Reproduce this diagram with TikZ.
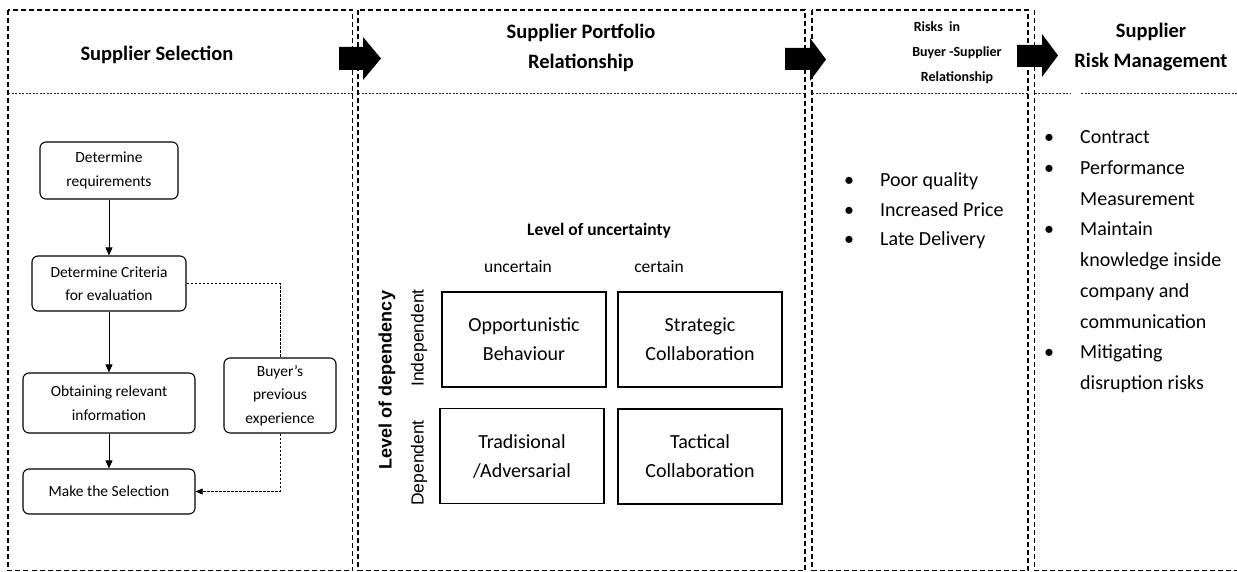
\documentclass[tikz,border=0pt]{standalone}
\usepackage{fontspec}
\setmainfont{Carlito}
\newfontfamily\arialfont{Liberation Sans}
\usetikzlibrary{arrows.meta}
\begin{document}
\begin{tikzpicture}[x=1pt,y=-1pt,
  panel/.style={draw, line width=1.1pt, dash pattern=on 5pt off 3pt},
  sep/.style={draw=black!85, line width=0.7pt, dash pattern=on 2pt off 1.5pt},
  flow/.style={draw, rounded corners=6pt, line width=1.1pt, align=center, inner sep=0pt, font=\fontsize{15.5}{23.5}\selectfont},
  quad/.style={draw, line width=1.2pt, minimum width=164pt, minimum height=95pt, align=center, inner sep=0pt, font=\fontsize{20}{29}\selectfont},
  head/.style={align=center, inner sep=0pt, font=\bfseries\fontsize{20.5}{30}\selectfont},
  farrow/.style={-{Triangle[length=8pt,width=7pt]}, line width=0.8pt},
  dline/.style={line width=0.6pt, dash pattern=on 2.5pt off 1.5pt},
  darrow/.style={dline, -{Triangle[length=7pt,width=6pt]}},
  lst/.style={anchor=west, inner sep=0pt, font=\fontsize{20}{30.75}\selectfont}
]
\useasboundingbox (0,0) rectangle (1237,572);

% panels
\draw[panel] (8,10) rectangle (352.5,570.5);
\draw[panel] (358,10) rectangle (805,570.5);
\draw[panel] (812,10) rectangle (1028,570.5);
\draw[panel] (1034.5,10) -- (1034.5,570.5) -- (1237,570.5);

% header separators
\draw[sep] (8,93) -- (352.5,93);
\draw[sep] (358,93) -- (805,93);
\draw[sep] (812,93) -- (1028,93);
\draw[sep] (1034.5,93) -- (1071,93);
\draw[sep] (1081,93) -- (1237,93);

% block arrows
\fill (339,47) -- (363,47) -- (363,37) -- (381,58.5) -- (363,80) -- (363,70) -- (339,70) -- cycle;
\fill (785,48) -- (810,48) -- (810,38) -- (826,59.5) -- (810,81) -- (810,70) -- (785,70) -- cycle;
\fill (1017,45) -- (1042,45) -- (1042,34) -- (1058,55.5) -- (1042,77) -- (1042,67) -- (1017,67) -- cycle;

% headers
\node[head] (h1) at (157,55) {Supplier Selection};
\node[head] (h2) at (581,48) {Supplier Portfolio\\Relationship};
\node[head, font=\bfseries\fontsize{14}{25}\selectfont] (h3) at (957,53) {Risks\ \ in\hspace*{40pt}\\Buyer -Supplier\\Relationship};
\node[head] (h4) at (1151,47) {Supplier\\Risk Management};

% flowchart
\node[flow, minimum width=138pt, minimum height=57pt] (req) at (109,170.5) {Determine\\requirements};
\node[flow, minimum width=154pt, minimum height=55pt] (crit) at (109,283.5) {Determine Criteria\\for evaluation};
\node[flow, minimum width=172pt, minimum height=60pt] (info) at (109,403) {Obtaining relevant\\information};
\node[flow, minimum width=172pt, minimum height=45pt] (sel) at (109,491.5) {Make the Selection};
\node[flow, minimum width=112pt, minimum height=75pt] (buyer) at (280,395.5) {Buyer’s\\previous\\experience};

\draw[farrow] (req) -- (crit);
\draw[farrow] (crit) -- (info);
\draw[farrow] (info) -- (sel);
\draw[dline] (crit.east) -| (buyer.north);
\draw[darrow] (buyer.south) |- (sel.east);

% portfolio matrix
\node[font=\bfseries\fontsize{17.5}{20}\selectfont] (lu) at (599,231) {Level of uncertainty};
\node[font=\fontsize{17.5}{20}\selectfont] (unc) at (518,267) {uncertain};
\node[font=\fontsize{17.5}{20}\selectfont] (cer) at (659,267) {certain};
\node[rotate=90, font=\arialfont\bfseries\fontsize{18}{20}\selectfont] (ld) at (387,380) {Level of dependency};
\node[rotate=90, font=\arialfont\fontsize{17.5}{20}\selectfont] (ind) at (419,338) {Independent};
\node[rotate=90, font=\arialfont\fontsize{17.5}{20}\selectfont] (dep) at (419,463) {Dependent};

\node[quad] (opp) at (524,339.5) {Opportunistic\\Behaviour};
\node[quad] (str) at (700,339.5) {Strategic\\Collaboration};
\node[quad] (trad) at (522,456) {Tradisional\\/Adversarial};
\node[quad] (tac) at (700,456.5) {Tactical\\Collaboration};

% lists
\node[lst, font=\fontsize{20}{29.5}\selectfont] (risks) at (842,210.5) {\begin{tabular}{@{}l@{\hspace{24pt}}l@{}}
\makebox[14pt]{\textbullet} & Poor quality\\
\makebox[14pt]{\textbullet} & Increased Price\\
\makebox[14pt]{\textbullet} & Late Delivery
\end{tabular}};

\node[lst] (srm) at (1042,260.5) {\begin{tabular}{@{}l@{\hspace{24pt}}l@{}}
\makebox[14pt]{\textbullet} & Contract\\
\makebox[14pt]{\textbullet} & Performance\\
 & Measurement\\
\makebox[14pt]{\textbullet} & Maintain\\
 & knowledge inside\\
 & company and\\
 & communication\\
\makebox[14pt]{\textbullet} & Mitigating\\
 & disruption risks
\end{tabular}};
\end{tikzpicture}
\end{document}
